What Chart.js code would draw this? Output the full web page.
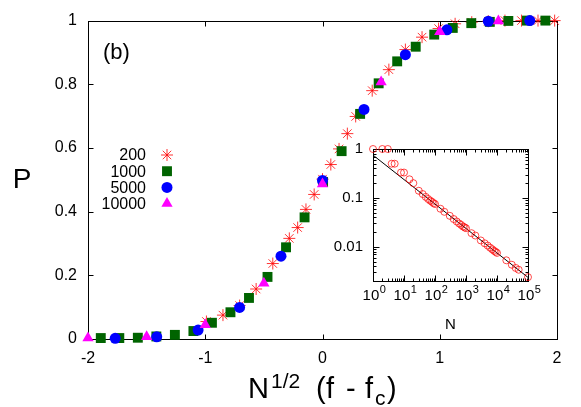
<!DOCTYPE html>
<html>
<head>
<meta charset="utf-8">
<script src="https://cdn.jsdelivr.net/npm/chart.js@4.4.1/dist/chart.umd.min.js"></script>
<style>
  html, body { margin: 0; padding: 0; background: #fff; }
  #wrap { position: relative; width: 581px; height: 407px; }
  #mainChart { position: absolute; left: 0; top: 0; }
  #insetChart { position: absolute; left: 320px; top: 130px; }
</style>
</head>
<body>
<div id="wrap">
  <canvas id="mainChart" width="581" height="407"></canvas>
  <canvas id="insetChart" width="245" height="205"></canvas>
</div>
<script>
// valores
const mainXTicks = [-2, -1, 0, 1, 2];
const mainYTicks = [0, 0.2, 0.4, 0.6, 0.8, 1];
const legendLabels = ['200', '1000', '5000', '10000'];

const x200 = [-0.990, -0.849, -0.707, -0.566, -0.424, -0.283, -0.212, -0.141, -0.071, 0.000, 0.071, 0.141, 0.212,
  0.283, 0.424, 0.566, 0.707, 0.849, 0.990, 1.131, 1.273, 1.414, 1.556, 1.697, 1.838, 1.980];
const p200 = [0.055, 0.075, 0.105, 0.157, 0.237, 0.316, 0.350, 0.407, 0.454, 0.502, 0.548, 0.597, 0.645,
  0.699, 0.780, 0.846, 0.909, 0.948, 0.975, 0.990, 0.995, 0.998, 1.000, 1.000, 1.000, 1.000];

const x1000 = [-1.891, -1.733, -1.575, -1.417, -1.259, -1.101, -0.943, -0.785, -0.627, -0.469, -0.311, -0.153, 0.005,
  0.163, 0.321, 0.479, 0.637, 0.795, 0.953, 1.111, 1.269, 1.427, 1.585, 1.743, 1.901];
const p1000 = [0.003, 0.003, 0.004, 0.008, 0.013, 0.025, 0.051, 0.084, 0.129, 0.195, 0.288, 0.382, 0.493,
  0.590, 0.707, 0.803, 0.872, 0.918, 0.956, 0.977, 0.992, 0.996, 0.999, 1.000, 1.000];

const x5000 = [-1.768, -1.414, -1.061, -0.707, -0.354, 0.000, 0.354, 0.707, 1.061, 1.414, 1.768];
const p5000 = [0.002, 0.007, 0.028, 0.099, 0.260, 0.498, 0.721, 0.893, 0.971, 0.998, 1.000];

const x10000 = [-2.0, -1.5, -1.0, -0.5, 0.0, 0.5, 1.0, 1.5];
const p10000 = [0.003, 0.007, 0.045, 0.175, 0.487, 0.807, 0.965, 0.999];

// inset: P vs N (log-log)
const insetN = [1, 2, 3, 4, 5, 8, 10, 15, 20, 30, 40, 50, 60, 70, 80, 90, 100, 150, 200, 300, 400, 500, 600, 700,
  800, 900, 1000, 1500, 2000, 3000, 4000, 5000, 6000, 7000, 8000, 9000, 10000, 20000, 30000, 40000, 50000, 100000];
const insetP = [1, 1, 1, 0.5, 0.5, 0.33, 0.33, 0.24, 0.2, 0.14, 0.12, 0.105, 0.095, 0.088, 0.083, 0.078, 0.075,
  0.06, 0.052, 0.043, 0.037, 0.033, 0.030, 0.028, 0.026, 0.025, 0.024, 0.019, 0.017, 0.0135, 0.0118, 0.0106,
  0.0096, 0.0089, 0.0083, 0.0079, 0.0075, 0.0053, 0.0043, 0.0037, 0.0034, 0.0024];
const fitN = [1, 100000];
const fitP = [0.75, 0.00237];
const insetXTicks = [1, 10, 100, 1000, 10000, 100000];
const insetXExp = ['0', '1', '2', '3', '4', '5'];
const insetYTicks = [0.01, 0.1, 1];

const FONT = "'Liberation Sans', Arial, Helvetica, sans-serif";
const RED = 'rgba(255,0,0,0.8)';
const GREEN = '#006400';
const BLUE = '#0000ff';
const MAGENTA = '#ff00ff';

const markers = [
  { style: 'star', radius: 6, color: RED, border: 1 },
  { style: 'rect', radius: 7, color: GREEN, border: 0 },
  { style: 'circle', radius: 5.5, color: BLUE, border: 0 },
  { style: 'triangle', radius: 6.5, color: MAGENTA, border: 0 }
];

function toPts(xs, ys) {
  return xs.map((x, i) => ({ x: x, y: ys[i] }));
}

// marco estilo gnuplot: caja + ticks hacia dentro en los 4 lados
function drawFrame(chart, o) {
  const ctx = chart.ctx, a = chart.chartArea;
  const xs = chart.scales.x, ys = chart.scales.y;
  const L = Math.round(a.left) + 0.5, R = Math.round(a.right) + 0.5;
  const T = Math.round(a.top) + 0.5, B = Math.round(a.bottom) + 0.5;
  ctx.save();
  if (o.fill) {
    ctx.fillStyle = '#fff';
    ctx.fillRect(L, T, R - L, B - T);
  }
  ctx.strokeStyle = '#000';
  ctx.lineWidth = 1;
  ctx.beginPath();
  const xt = (v, len) => {
    const p = Math.round(xs.getPixelForValue(v)) + 0.5;
    ctx.moveTo(p, B); ctx.lineTo(p, B - len);
    ctx.moveTo(p, T); ctx.lineTo(p, T + len);
  };
  const yt = (v, len) => {
    const p = Math.round(ys.getPixelForValue(v)) + 0.5;
    ctx.moveTo(L, p); ctx.lineTo(L + len, p);
    ctx.moveTo(R, p); ctx.lineTo(R - len, p);
  };
  o.xMajor.forEach(v => xt(v, o.major));
  o.yMajor.forEach(v => yt(v, o.major));
  (o.xMinor || []).forEach(v => xt(v, o.minor));
  (o.yMinor || []).forEach(v => yt(v, o.minor));
  ctx.stroke();
  ctx.strokeRect(L, T, R - L, B - T);
  ctx.restore();
}

function drawMarker(ctx, m, x, y) {
  ctx.save();
  ctx.fillStyle = m.color;
  ctx.strokeStyle = m.color;
  ctx.lineWidth = m.border;
  if (Chart.helpers && Chart.helpers.drawPoint) {
    Chart.helpers.drawPoint(ctx, { pointStyle: m.style, radius: m.radius, rotation: 0, borderWidth: m.border }, x, y);
  } else {
    ctx.beginPath();
    ctx.arc(x, y, m.radius, 0, Math.PI * 2);
    ctx.fill();
  }
  ctx.restore();
}

const mainDecor = {
  id: 'mainDecor',
  beforeDatasetsDraw(chart) {
    drawFrame(chart, { xMajor: mainXTicks, yMajor: mainYTicks, major: 5 });
  },
  afterDraw(chart) {
    const ctx = chart.ctx;
    ctx.save();
    ctx.fillStyle = '#000';
    ctx.textBaseline = 'alphabetic';

    // (b)
    ctx.font = '22px ' + FONT;
    ctx.textAlign = 'left';
    ctx.fillText('(b)', 103, 59);

    // leyenda: texto a la derecha alineado, luego el simbolo
    ctx.font = '16px ' + FONT;
    ctx.textAlign = 'right';
    ctx.textBaseline = 'middle';
    legendLabels.forEach((lab, i) => {
      const y = 155 + i * 16.2;
      ctx.fillStyle = '#000';
      ctx.fillText(lab, 146, y + 1);
      drawMarker(ctx, markers[i], 167, y);
    });

    // eje y: P
    ctx.fillStyle = '#000';
    ctx.textAlign = 'center';
    ctx.textBaseline = 'middle';
    ctx.font = '28px ' + FONT;
    ctx.fillText('P', 22, 180);

    // eje x: N^{1/2} (f - f_c)
    ctx.textAlign = 'left';
    ctx.textBaseline = 'alphabetic';
    ctx.font = '29px ' + FONT;
    ctx.fillText('N', 248, 398);
    ctx.font = '21px ' + FONT;
    ctx.fillText('1/2', 271, 388);
    ctx.font = '29px ' + FONT;
    ctx.fillText('(', 316, 398);
    ctx.fillText('f', 326, 398);
    ctx.fillText('-', 346, 398);
    ctx.fillText('f', 365, 398);
    ctx.font = '21px ' + FONT;
    ctx.fillText('c', 375, 405);
    ctx.font = '29px ' + FONT;
    ctx.fillText(')', 387, 398);
    ctx.restore();
  }
};

const insetDecor = {
  id: 'insetDecor',
  beforeDatasetsDraw(chart) {
    const xMinor = [], yMinor = [];
    [1, 10, 100, 1000, 10000].forEach(d => { for (let m = 2; m <= 9; m++) xMinor.push(d * m); });
    [0.001, 0.01, 0.1].forEach(d => {
      for (let m = 2; m <= 9; m++) { const v = d * m; if (v >= 0.002 && v < 1) yMinor.push(v); }
    });
    drawFrame(chart, { fill: true, xMajor: insetXTicks, yMajor: insetYTicks, xMinor: xMinor, yMinor: yMinor, major: 6, minor: 3 });
  },
  afterDraw(chart) {
    const ctx = chart.ctx, xs = chart.scales.x;
    ctx.save();
    ctx.fillStyle = '#000';
    ctx.textBaseline = 'alphabetic';
    ctx.textAlign = 'left';
    insetXTicks.forEach((v, i) => {
      const px = xs.getPixelForValue(v);
      ctx.font = '15px ' + FONT;
      const w1 = ctx.measureText('10').width;
      ctx.font = '11px ' + FONT;
      const w2 = ctx.measureText(insetXExp[i]).width;
      const x0 = px - (w1 + w2) / 2 + 1;
      ctx.font = '15px ' + FONT;
      ctx.fillText('10', x0, 170);
      ctx.font = '11px ' + FONT;
      ctx.fillText(insetXExp[i], x0 + w1 + 0.5, 163);
    });
    ctx.font = '15px ' + FONT;
    ctx.textAlign = 'center';
    ctx.fillText('N', (chart.chartArea.left + chart.chartArea.right) / 2, 199);
    ctx.restore();
  }
};

new Chart(document.getElementById('mainChart'), {
  type: 'scatter',
  data: {
    datasets: [
      { label: '200', data: toPts(x200, p200), pointStyle: 'star', pointRadius: 6, borderColor: RED,
        backgroundColor: RED, pointBorderWidth: 1, order: 4, clip: false },
      { label: '1000', data: toPts(x1000, p1000), pointStyle: 'rect', pointRadius: 7, borderColor: GREEN,
        backgroundColor: GREEN, pointBorderWidth: 0, order: 3, clip: false },
      { label: '5000', data: toPts(x5000, p5000), pointStyle: 'circle', pointRadius: 5.5, borderColor: BLUE,
        backgroundColor: BLUE, pointBorderWidth: 0, order: 2, clip: false },
      { label: '10000', data: toPts(x10000, p10000), pointStyle: 'triangle', pointRadius: 6.5, borderColor: MAGENTA,
        backgroundColor: MAGENTA, pointBorderWidth: 0, order: 1, clip: false }
    ]
  },
  options: {
    responsive: false,
    animation: false,
    events: [],
    layout: { autoPadding: false, padding: { left: 0, right: 24, top: 20, bottom: 0 } },
    plugins: { legend: { display: false }, tooltip: { enabled: false } },
    scales: {
      x: {
        type: 'linear', min: -2, max: 2,
        afterBuildTicks: s => { s.ticks = mainXTicks.map(v => ({ value: v })); },
        afterFit: s => { s.height = 68; },
        grid: { display: false, drawTicks: false },
        border: { display: false },
        ticks: { color: '#000', font: { family: FONT, size: 16 }, padding: 10, maxRotation: 0, callback: v => String(v) }
      },
      y: {
        type: 'linear', min: 0, max: 1,
        afterBuildTicks: s => { s.ticks = mainYTicks.map(v => ({ value: v })); },
        afterFit: s => { s.width = 88; },
        grid: { display: false, drawTicks: false },
        border: { display: false },
        ticks: { color: '#000', font: { family: FONT, size: 16 }, padding: 11, callback: v => String(v) }
      }
    }
  },
  plugins: [mainDecor]
});

new Chart(document.getElementById('insetChart'), {
  type: 'scatter',
  data: {
    datasets: [
      { label: 'P', data: toPts(insetN, insetP), pointStyle: 'circle', pointRadius: 3.5,
        borderColor: 'rgba(255,0,0,0.7)', backgroundColor: 'rgba(0,0,0,0)', pointBorderWidth: 1, order: 1, clip: false },
      { label: 'fit', data: toPts(fitN, fitP), showLine: true, pointRadius: 0, borderColor: '#000',
        borderWidth: 1, order: 2, clip: false }
    ]
  },
  options: {
    responsive: false,
    animation: false,
    events: [],
    layout: { autoPadding: false, padding: { left: 0, right: 37, top: 19, bottom: 0 } },
    plugins: { legend: { display: false }, tooltip: { enabled: false } },
    scales: {
      x: {
        type: 'logarithmic', min: 1, max: 100000,
        afterBuildTicks: s => { s.ticks = insetXTicks.map(v => ({ value: v })); },
        afterFit: s => { s.height = 54; },
        grid: { display: false, drawTicks: false },
        border: { display: false },
        ticks: { display: false }
      },
      y: {
        type: 'logarithmic', min: 0.002, max: 1,
        afterBuildTicks: s => { s.ticks = insetYTicks.map(v => ({ value: v })); },
        afterFit: s => { s.width = 53; },
        grid: { display: false, drawTicks: false },
        border: { display: false },
        ticks: { color: '#000', font: { family: FONT, size: 15 }, padding: 10, callback: v => String(v) }
      }
    }
  },
  plugins: [insetDecor]
});
</script>
</body>
</html>
